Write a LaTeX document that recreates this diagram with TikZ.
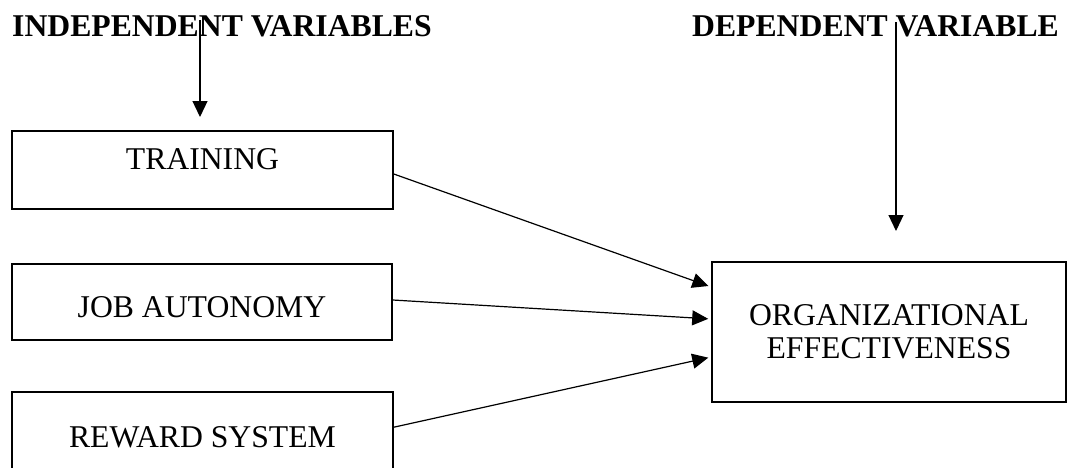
\documentclass[tikz,border=0pt]{standalone}
\usepackage{fontspec}
\setmainfont{Liberation Serif}
\usetikzlibrary{arrows.meta}
\begin{document}
\begin{tikzpicture}[x=1pt,y=-1pt,
  txt/.style={font=\fontsize{31.7}{33}\selectfont},
  box/.style={draw, line width=1.6pt, inner sep=0pt, txt},
  hdr/.style={inner sep=0pt, anchor=base west, font=\fontsize{31.7}{33}\selectfont\bfseries},
  conn/.style={line width=1.2pt, -{Triangle[length=16pt,width=15pt]}},
]
\useasboundingbox (0,0) rectangle (1072,467);
\node[hdr] (indep) at (12,36) {INDEPENDENT VARIABLES};
\node[hdr] (dep) at (692,36) {DEPENDENT VARIABLE};

\node[box, minimum width=381pt, text height=38pt, text depth=40pt, anchor=base] (train) at (202.5,169) {TRAINING};
\node[box, minimum width=380pt, text height=53pt, text depth=23pt, anchor=base] (job) at (202,317) {JOB AUTONOMY};
\node[box, minimum width=381pt, text height=55pt, text depth=45pt, anchor=base] (rew) at (202.5,447) {REWARD SYSTEM};
\node[box, minimum width=354pt, minimum height=140pt, align=center] (org) at (889,332) {ORGANIZATIONAL\\EFFECTIVENESS};

\coordinate (a1s) at (200,20);
\coordinate (a1e) at (200,117);
\coordinate (a2s) at (896,22);
\coordinate (a2e) at (896,231);
\draw[conn] (a1s) -- (a1e);
\draw[conn] (a2s) -- (a2e);

\draw[conn, shorten >=3pt] ([yshift=-4pt]train.east) -- ([yshift=45pt]org.west);
\draw[conn, shorten >=3pt] ([yshift=2pt]job.east) -- ([yshift=13pt]org.west);
\draw[conn, shorten >=3pt] ([yshift=-36pt]rew.north east) -- ([yshift=-25pt]org.west);
\end{tikzpicture}
\end{document}
